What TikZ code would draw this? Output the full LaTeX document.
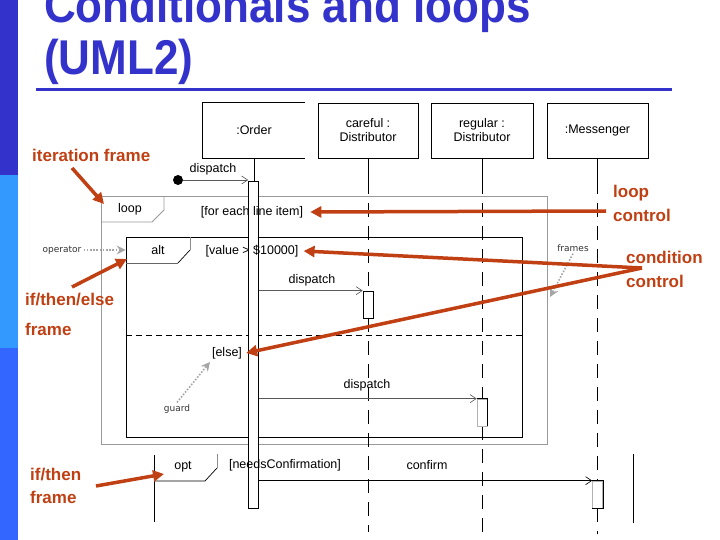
\documentclass[tikz,border=0pt]{standalone}
\usepackage{fontspec}
\setmainfont{Liberation Sans}
\newfontfamily\smallfont{DejaVu Sans}
\usetikzlibrary{arrows.meta}
\definecolor{titleblue}{RGB}{51,51,204}
\definecolor{barmid}{RGB}{51,153,255}
\definecolor{barlow}{RGB}{51,102,255}
\definecolor{annot}{RGB}{192,64,20}
\begin{document}
\begin{tikzpicture}[x=1pt,y=-1pt,
  every node/.style={font=\fontsize{12.5}{14}\selectfont, inner sep=2pt},
  head/.style={minimum height=55pt, inner sep=0pt, align=center, line width=0.7pt},
  act/.style={draw, fill=white, line width=0.7pt, minimum width=10pt, inner sep=0pt},
  lifesolid/.style={line width=0.7pt},
  life/.style={line width=0.7pt, dash pattern=on 14pt off 9pt},
  msg/.style={draw=black!65, line width=0.6pt, -{Straight Barb[length=6pt,width=8pt]}},
  umlframe/.style={draw, inner sep=0pt, line width=0.7pt},
  annotarrow/.style={draw=annot, line width=3.5pt, -{Triangle[length=11pt,width=11pt]}},
  annottext/.style={text=annot, font=\bfseries\fontsize{17}{20}\selectfont, anchor=base west, inner sep=0pt},
  hint/.style={draw=black!35, line width=1.6pt, dash pattern=on 1.6pt off 1.6pt, -{Stealth[length=9pt,width=9pt,inset=3pt]}},
  hinttext/.style={font=\smallfont\fontsize{9}{10}\selectfont, text=black!80},
  titletext/.style={anchor=base west, inner sep=0pt, text=titleblue, font=\bfseries\fontsize{44}{48}\selectfont}
]
\useasboundingbox (0,0) rectangle (720,540);
\fill[white] (0,0) rectangle (720,540);

% left bar
\fill[titleblue] (0,0) rectangle (18,175);
\fill[barmid] (0,175) rectangle (18,348);
\fill[barlow] (0,348) rectangle (18,540);

% title
\node[titletext] (title1) at (44,23) {\scalebox{1}[1.11]{Conditionals and loops}};
\node[titletext] (title2) at (44,75) {\scalebox{1}[1.11]{(UML2)}};
\draw[titleblue, line width=3pt] (36,90) -- (672,90);

% frames
\node[umlframe, draw=black!40, line width=0.9pt, minimum width=446pt, minimum height=248pt] (loopF) at (324,320) {};
\node[umlframe, minimum width=396pt, minimum height=200pt] (altF) at (324,337) {};
\draw[line width=0.7pt, dash pattern=on 6pt off 4pt] (altF.west |- 0,335) -- (altF.east |- 0,335);

% pentagons
\draw[black!40, line width=0.9pt] (164,196) -- (164,210) -- (152,222) -- (101,222);
\draw[black!45, line width=0.7pt] (190,237) -- (190,250);
\draw[line width=0.7pt] (190,250) -- (178,263);
\draw[black!60, line width=0.7pt] (178,263) -- (126,263);
\draw[black!45, line width=0.7pt] (217,454) -- (217,468);
\draw[line width=0.7pt] (217,468) -- (205,481) -- (154,481);
\draw[line width=0.7pt] (154,455) -- (154,522);
\draw[line width=0.7pt] (633,454) -- (633,523);

% heads
\node[head, minimum width=102pt] (order) at (254,130.5) {:Order};
\draw[line width=0.7pt] (order.north east) -- (order.north west) -- (order.south west) -- (order.south east);
\node[head, draw, minimum width=100pt] (careful) at (368,130.5) {careful :\\Distributor};
\node[head, draw, minimum width=102pt] (regular) at (482,130.5) {regular :\\Distributor};
\node[head, draw, minimum width=101pt] (messenger) at (597.5,130.5) {:Messenger};

% activations
\node[act, minimum height=327pt] (orderAct) at (253.5,344.5) {};
\node[act, minimum height=27pt] (carefulAct) at (368,304.5) {};
\node[act, draw=black!30, minimum height=27pt] (regularAct) at (482,412.5) {};
\node[act, draw=black!30, minimum height=27pt] (messengerAct) at (597.5,494.5) {};

% lifelines
\draw[lifesolid] (order.south) -- (order.south |- orderAct.north);
\draw[life] ([yshift=14pt]orderAct.south) -- ++(0,20);
\draw[lifesolid] (careful.south) -- ++(0,22) coordinate (c1);
\draw[life] (c1) -- ++(0,133) coordinate (c2);
\draw[life] (carefulAct.south) -- ++(0,214);
\draw[lifesolid] (regular.south) -- ++(0,22) coordinate (r1);
\draw[life] (r1) -- (r1 |- regularAct.north);
\draw[life] (regularAct.south) -- ++(0,106);
\draw[lifesolid] (messenger.south) -- ++(0,22) coordinate (m1);
\draw[life] (m1) -- (m1 |- messengerAct.north);
\draw[life] (messengerAct.south) -- ++(0,26);

% redraw activation boxes on top of lifelines
\node[act, minimum height=327pt] at (orderAct) {};
\node[act, minimum height=27pt] at (carefulAct) {};
\node[act, draw=black!30, minimum height=27pt] at (regularAct) {};
\node[act, draw=black!30, minimum height=27pt] at (messengerAct) {};
\draw[line width=0.7pt] (regularAct.north west) -- (regularAct.north east) -- (regularAct.south east);
\draw[line width=0.7pt] (messengerAct.north west) -- (messengerAct.north east) -- (messengerAct.south east) -- (messengerAct.south west);

% messages
\node[circle, fill, inner sep=0pt, minimum size=10pt] (startDot) at (178,180) {};
\draw[msg] (startDot) -- (startDot -| orderAct.west);
\draw[msg] (orderAct.east |- carefulAct.north) -- (carefulAct.north west);
\draw[msg] (orderAct.east |- regularAct.north) -- (regularAct.north west);
\draw[msg, draw=black] (orderAct.east |- messengerAct.north) -- (messengerAct.north west);

% labels
\node (dispatch1) at (213,169) {dispatch};
\node (dispatch2) at (312,280) {dispatch};
\node (dispatch3) at (367,385) {dispatch};
\node (confirmLbl) at (427,465) {confirm};
\node (loopLbl) at (130,209) {loop};
\node (forEach) at (252,212) {[for each line item]};
\node (altLbl) at (158,250) {alt};
\node (valueGuard) at (252,251) {[value > \$10000]};
\node (elseGuard) at (227,353) {[else]};
\node (optLbl) at (183,467) {opt};
\node (needs) at (285,465) {[needsConfirmation]};

% hints
\node[hinttext] (operatorLbl) at (62,250) {operator};
\draw[hint] (operatorLbl.east) -- (altF.west |- operatorLbl.east);
\node[hinttext] (framesLbl) at (573,248) {frames};
\coordinate (framesTip) at (550,297);
\draw[hint] (framesLbl.south) -- (framesTip);
\node[hinttext] (guardLbl) at (177,409) {guard};
\coordinate (guardTip) at (210,362);
\draw[hint] (guardLbl.north) -- (guardTip);

% red annotations
\node[annottext] (iterTxt) at (32,162) {iteration frame};
\coordinate (iterStart) at (72,168);
\coordinate (iterTip) at (104,204);
\draw[annotarrow] (iterStart) -- (iterTip);

\node[annottext] (loopCtl1) at (613,198) {loop};
\node[annottext] (loopCtl2) at (613,222) {control};
\coordinate (loopCtlStart) at (606,211);
\draw[annotarrow] (loopCtlStart) -- ([xshift=5pt]forEach.east);

\node[annottext] (condCtl1) at (626,263) {condition};
\node[annottext] (condCtl2) at (626,287) {control};
\coordinate (condStart) at (642,268);
\draw[annotarrow] (condStart) -- ([xshift=3pt]valueGuard.east);
\draw[annotarrow] (condStart) -- ([xshift=2pt]elseGuard.east);

\node[annottext] (iteTxt1) at (25,305) {if/then/else};
\node[annottext] (iteTxt2) at (25,335) {frame};
\coordinate (iteStart) at (72,287);
\coordinate (iteTip) at (127,259);
\draw[annotarrow] (iteStart) -- (iteTip);

\node[annottext] (itTxt1) at (30,480) {if/then};
\node[annottext] (itTxt2) at (30,503) {frame};
\coordinate (itStart) at (96,486);
\coordinate (itTip) at (164,474);
\draw[annotarrow] (itStart) -- (itTip);
\end{tikzpicture}
\end{document}
